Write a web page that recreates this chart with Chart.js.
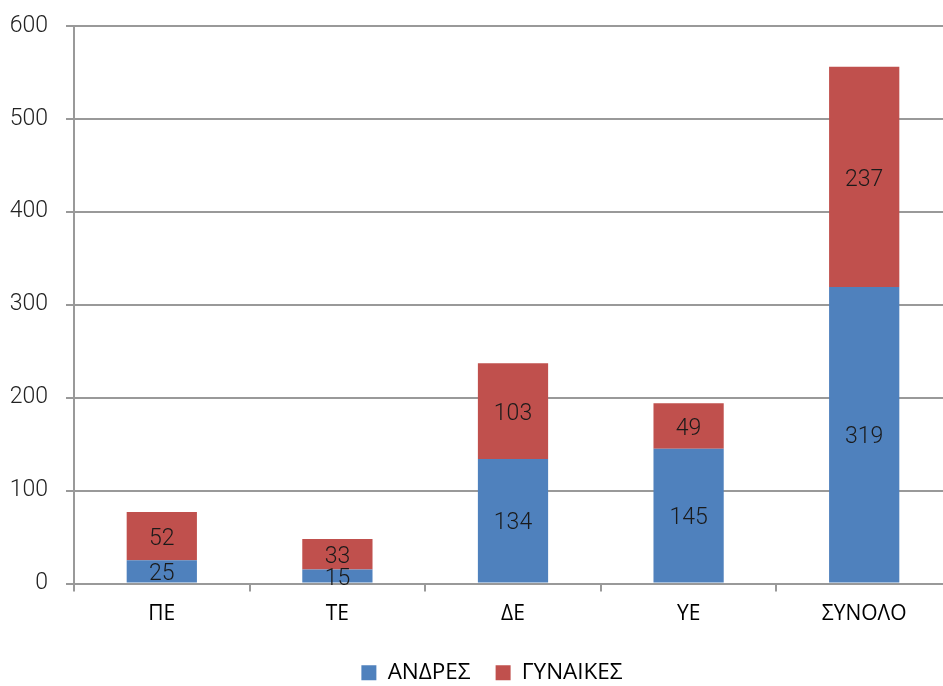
<!DOCTYPE html>
<html>
<head>
<meta charset="utf-8">
<script src="https://cdn.jsdelivr.net/npm/chart.js@4.4.1/dist/chart.umd.min.js"></script>
<style>
html,body{margin:0;padding:0;background:#fff;overflow:hidden;width:943px;height:686px;}
#wrap{position:relative;width:984px;height:706px;margin-top:-6px;}
</style>
</head>
<body>
<div id="wrap"><canvas id="c" width="984" height="706"></canvas></div>
<script>
const categories = ["ΠΕ", "ΤΕ", "ΔΕ", "ΥΕ", "ΣΥΝΟΛΟ"];
const men = [25, 15, 134, 145, 319];
const women = [52, 33, 103, 49, 237];
const seriesNames = ["ΑΝΔΡΕΣ", "ΓΥΝΑΙΚΕΣ"];
const yTicks = [0, 100, 200, 300, 400, 500, 600];

const textFont = "'Open Sans', 'DejaVu Sans', sans-serif";
const numFont = "Roboto, 'Open Sans', sans-serif";

const labelPlugin = {
  id: 'barLabels',
  afterLayout(chart) {
    if (chart.legend) { chart.legend.left += 16; chart.legend.right += 16; }
  },
  afterDatasetsDraw(chart) {
    const ctx = chart.ctx;
    ctx.save();
    ctx.font = "300 23px " + numFont;
    ctx.fillStyle = "#1a1a1a";
    ctx.textAlign = "center";
    ctx.textBaseline = "middle";
    chart.data.datasets.forEach((ds, i) => {
      const meta = chart.getDatasetMeta(i);
      meta.data.forEach((el, j) => {
        const y = (el.y + el.base) / 2;
        ctx.fillText(String(ds.data[j]), el.x, y + 3);
      });
    });
    ctx.restore();
  }
};

new Chart(document.getElementById('c'), {
  type: 'bar',
  data: {
    labels: categories,
    datasets: [
      { label: seriesNames[0], data: men, backgroundColor: '#4F81BD', barPercentage: 0.4, categoryPercentage: 1.0 },
      { label: seriesNames[1], data: women, backgroundColor: '#C0504D', barPercentage: 0.4, categoryPercentage: 1.0 }
    ]
  },
  options: {
    responsive: false,
    animation: false,
    devicePixelRatio: 1,
    layout: { padding: { top: 3, right: 32, bottom: 6, left: 0 } },
    plugins: {
      legend: {
        position: 'bottom',
        labels: {
          boxWidth: 15, boxHeight: 15, padding: 25,
          color: '#000',
          font: { family: textFont, size: 22.5 }
        }
      },
      tooltip: { enabled: false }
    },
    scales: {
      x: {
        stacked: true,
        grid: { display: true, drawOnChartArea: false, drawTicks: true, tickLength: 8, color: '#999', lineWidth: 2, offset: true },
        border: { display: true, color: '#999', width: 2 },
        ticks: { color: '#000', font: { family: textFont, size: 21 }, padding: 10 },
        afterFit(scale) { scale.height = 53; }
      },
      y: {
        stacked: true,
        min: 0, max: 600,
        afterBuildTicks(scale) { scale.ticks = yTicks.map(v => ({ value: v })); },
        grid: { color: '#999', lineWidth: 2, tickLength: 8 },
        border: { display: true, color: '#999', width: 2 },
        ticks: { color: '#222', font: { family: numFont, size: 23, weight: '300' }, padding: 18 },
        afterFit(scale) { scale.width = 74; }
      }
    }
  },
  plugins: [labelPlugin]
});
</script>
</body>
</html>
